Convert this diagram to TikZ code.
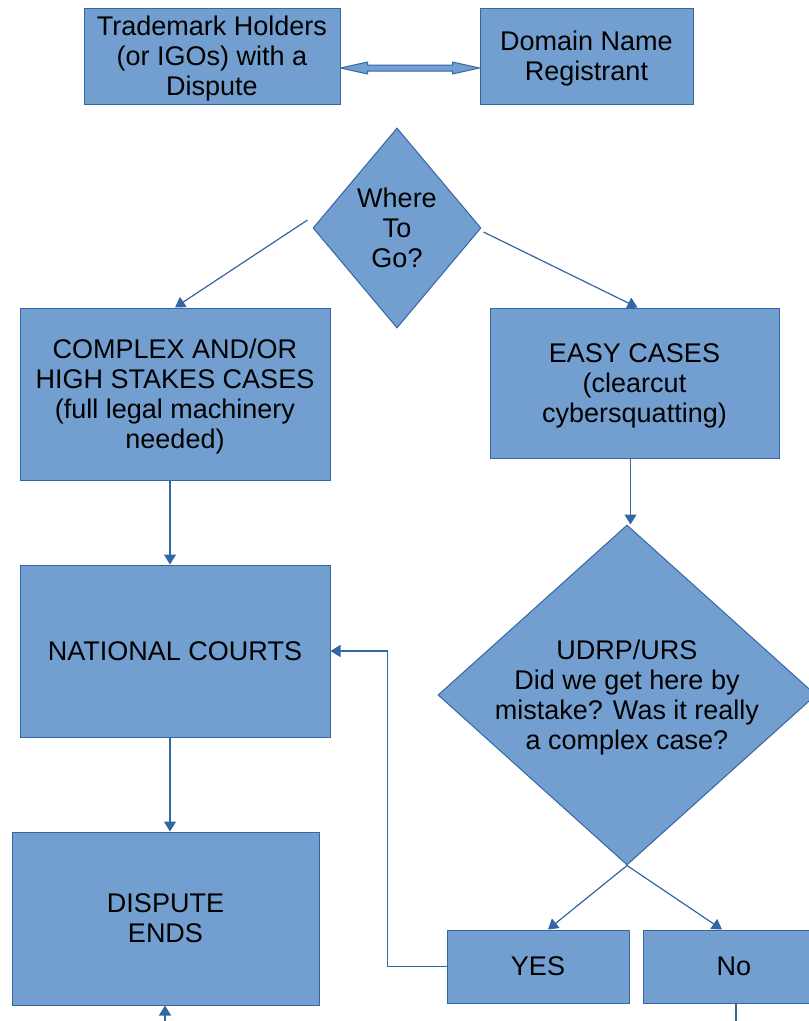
\documentclass[tikz,border=0pt]{standalone}
\usepackage{fontspec}
\setmainfont{Liberation Sans}
\usetikzlibrary{shapes.geometric}
\usetikzlibrary{arrows.meta}
\usetikzlibrary{calc}
\definecolor{boxfill}{HTML}{729FCF}
\definecolor{boxline}{HTML}{3465A4}
\newcommand{\lastline}[1]{\raisebox{0pt}[\height][0pt]{#1}}
\tikzset{>={Triangle[length=10pt,width=12pt]}}
\tikzset{
  box/.style={draw=boxline, fill=boxfill, line width=1pt, inner sep=0pt,
    align=center, font=\fontsize{27}{30}\selectfont},
  decision/.style={box, diamond},
  conn/.style={draw=boxline, line width=1.2pt, ->},
  blockarrow/.style={draw=boxline, fill=boxfill, line width=1pt, line join=round}
}

\begin{document}
\begin{tikzpicture}[x=1pt, y=-1pt]
      \useasboundingbox (0,0) rectangle (809,1021);
      \node[box, minimum width=256, minimum height=96] (holders) at (212,56) {Trademark Holders\\(or IGOs) with a\\\lastline{Dispute}};
      \node[box, minimum width=213, minimum height=96] (registrant) at (586.5,56) {Domain Name\\\lastline{Registrant}};
      \node[decision, aspect=0.84, minimum width=168, minimum height=200] (where) at (397,228) {Where\\To\\Go?};
      \node[box, minimum width=310, minimum height=172] (complex) at (175,394) {COMPLEX AND/OR\\HIGH STAKES CASES\\(full legal machinery\\\lastline{needed)}};
      \node[box, minimum width=289, minimum height=150] (easy) at (634.5,383) {EASY CASES\\(clearcut\\\lastline{cybersquatting)}};
      \node[box, minimum width=310, minimum height=172] (national) at (175,651) {NATIONAL COURTS};
      \node[decision, aspect=1.11, inner sep=-10pt, minimum width=378, minimum height=340] (udrp) at (627,695) {UDRP/URS\\Did we get here by\\mistake? Was it really\\\lastline{a complex case?}};
      \node[box, minimum width=307, minimum height=173] (dispute) at (165.5,918.5) {DISPUTE\\ENDS};
      \node[box, minimum width=182, minimum height=73] (yes) at (538,966.5) {YES};
      \node[box, minimum width=182, minimum height=73] (no) at (734,966.5) {No};
      \coordinate (la) at ($(holders.east)+(0,12)$);
      \coordinate (ra) at ($(registrant.west)+(0,12)$);
      \filldraw[blockarrow] (la) -- ++(27,-6) -- ++(0,3) -- ($(ra)+(-27,-3)$) -- ++(0,-3) -- (ra)
        -- ++(-27,6) -- ++(0,-3) -- ($(la)+(27,3)$) -- ++(0,3) -- cycle;
      \draw[conn] ([xshift=-5pt,yshift=8pt]where.west) -- (complex.north);
      \draw[conn] ([xshift=2pt,yshift=-4pt]where.east) -- ([xshift=3pt]easy.north);
      \draw[conn] ([xshift=-5pt]complex.south) -- ([xshift=-5pt]national.north);
      \draw[conn] ([xshift=-4pt]easy.south) -- ([xshift=-4pt]easy.south |- udrp.north);
      \draw[conn] ([xshift=-5pt]national.south) -- ([xshift=-5pt]national.south |- dispute.north);
      \draw[conn] (udrp.south) -- ([xshift=10pt]yes.north);
      \draw[conn] (udrp.south) -- ([xshift=-12pt]no.north);
      \draw[conn] (yes.west) -- ++(-59,0) |- (national.east);
      \coordinate (below) at (165,1021);
      \coordinate (noend) at (736,1021);
      \draw[conn] (below) -- (below |- dispute.south);
      \draw[draw=boxline, line width=1.2pt] (no.south -| noend) -- (noend);
\end{tikzpicture}
\end{document}
